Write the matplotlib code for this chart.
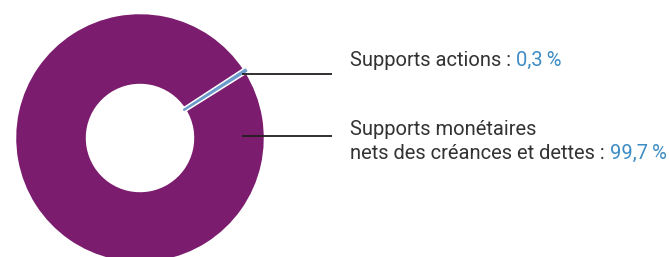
import matplotlib
matplotlib.use("Agg")
import matplotlib.pyplot as plt

labels = ["Supports actions", "Supports monétaires\nnets des créances et dettes"]
values = [0.3, 99.7]
value_labels = ["0,3\u2009%", "99,7\u2009%"]
colors = ["#6b9acb", "#7b1c6f"]

W, H = 669, 257
fig = plt.figure(figsize=(W / 100, H / 100), dpi=100)
ax = fig.add_axes([0, 0, 1, 1])

cx, cy = 140, H - 138
r_out, r_in = 126, 52
mid_angle = 32.6
start = mid_angle - values[0] / sum(values) * 360 / 2
wedges, _ = ax.pie(values, colors=colors, startangle=start, counterclock=True,
                   center=(cx, cy), radius=r_out, frame=True,
                   wedgeprops=dict(width=r_out - r_in, edgecolor="white", linewidth=3.2))
small = wedges[0]
small.set_edgecolor(colors[0])
small.set_linewidth(1.0)
small.set_zorder(5)

ax.set_xlim(0, W)
ax.set_ylim(0, H)
ax.set_aspect("equal")
ax.axis("off")

for y in [74, 136]:
    ax.plot([242, 332], [H - y, H - y], color="#231f20", lw=1.3,
            solid_capstyle="butt", zorder=6)

font = "Roboto"
fs = 14.5
txt_color = "#333333"
num_color = "#3d8cc4"

fig.canvas.draw()
r = fig.canvas.get_renderer()

def place(x, ybase, main, num):
    t = ax.text(x, H - ybase, main, fontsize=fs, family=font,
                color=txt_color, va="baseline", ha="left")
    bb = t.get_window_extent(renderer=r)
    ax.text(bb.x1 + 5, H - ybase, num, fontsize=fs, family=font,
            color=num_color, va="baseline", ha="left")
    return t

place(350, 66, labels[0] + " :", value_labels[0])
line1, line2 = labels[1].split("\n")
ax.text(350, H - 135, line1, fontsize=fs, family=font,
        color=txt_color, va="baseline", ha="left")
place(350, 159, line2 + " :", value_labels[1])

fig.savefig("out.png", dpi=100)
